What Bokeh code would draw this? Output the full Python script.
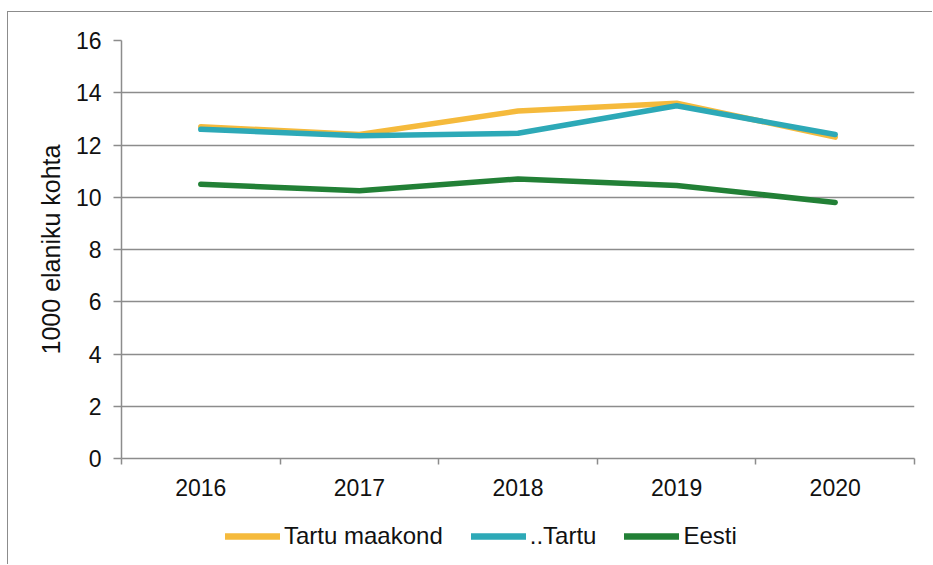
from bokeh.plotting import figure
from bokeh.layouts import column
from bokeh.models import Range1d, FixedTicker, Legend, LegendItem
from bokeh.embed import file_html
from bokeh.resources import INLINE

years = ["2016", "2017", "2018", "2019", "2020"]
tartu_maakond = [12.7, 12.4, 13.3, 13.6, 12.3]
tartu = [12.6, 12.35, 12.45, 13.5, 12.4]
eesti = [10.5, 10.25, 10.7, 10.45, 9.8]
y_ticks = [0, 2, 4, 6, 8, 10, 12, 14, 16]
series_names = ["Tartu maakond", "..Tartu", "Eesti"]
series_colors = ["#F5BA3C", "#2DA9B7", "#228036"]

xs = [i + 0.5 for i in range(len(years))]
bounds = list(range(len(years) + 1))
series = [tartu_maakond, tartu, eesti]

FONT = "Liberation Sans"
GRAY = "#8c8c8c"

p = figure(width=924, height=495, output_backend="svg", toolbar_location=None,
           x_range=Range1d(0, len(years)), y_range=Range1d(0, 16),
           min_border_left=113, min_border_right=18, min_border_top=28,
           min_border_bottom=49)
p.outline_line_color = None
p.background_fill_color = "white"
p.border_fill_color = "white"

for vals, col in zip(series, series_colors):
    p.line(xs, vals, line_color=col, line_width=5.5, line_cap="round", line_join="round")

# x axis
p.xaxis.ticker = FixedTicker(ticks=xs, minor_ticks=bounds)
p.xaxis.major_label_overrides = {x: y for x, y in zip(xs, years)}
p.xaxis.major_tick_out = 0
p.xaxis.major_tick_in = 0
p.xaxis.minor_tick_out = 6
p.xaxis.minor_tick_in = 0
p.xaxis.minor_tick_line_color = GRAY
p.xaxis.minor_tick_line_width = 1.5
p.xaxis.axis_line_color = GRAY
p.xaxis.axis_line_width = 1.5
p.xaxis.major_label_text_font = FONT
p.xaxis.major_label_text_font_size = "23px"
p.xaxis.major_label_text_color = "#111111"
p.xaxis.major_label_standoff = 14
p.xgrid.visible = False

# y axis
p.yaxis.ticker = FixedTicker(ticks=y_ticks)
p.yaxis.minor_tick_line_color = None
p.yaxis.major_tick_out = 8
p.yaxis.major_tick_in = 0
p.yaxis.major_tick_line_color = GRAY
p.yaxis.major_tick_line_width = 1.5
p.yaxis.axis_line_color = GRAY
p.yaxis.axis_line_width = 1.5
p.yaxis.major_label_text_font = FONT
p.yaxis.major_label_text_font_size = "23px"
p.yaxis.major_label_text_color = "#111111"
p.yaxis.major_label_standoff = 12
p.yaxis.axis_label = "1000 elaniku kohta"
p.yaxis.axis_label_text_font = FONT
p.yaxis.axis_label_text_font_size = "25px"
p.yaxis.axis_label_text_font_style = "normal"
p.yaxis.axis_label_text_color = "#111111"
p.yaxis.axis_label_standoff = 8
p.ygrid.grid_line_color = GRAY
p.ygrid.grid_line_width = 1.5

# legend strip (series drawn out of view; only their legend glyphs show)
lg = figure(width=924, height=57, output_backend="svg", toolbar_location=None,
            x_range=Range1d(0, len(years)), y_range=Range1d(-2, -1),
            min_border_left=0, min_border_right=0, min_border_top=0, min_border_bottom=0)
lg.axis.visible = False
lg.grid.visible = False
lg.outline_line_color = None
lg.border_fill_color = "white"
lg.background_fill_color = "white"
items = []
for name, vals, col in zip(series_names, series, series_colors):
    r = lg.line(xs, vals, line_color=col, line_width=6.5, line_cap="round")
    items.append(LegendItem(label=name, renderers=[r]))
legend = Legend(items=items, orientation="horizontal", location=(104, 14),
                glyph_width=55, glyph_height=20, label_standoff=4, spacing=28,
                padding=0, margin=0, border_line_color=None, background_fill_alpha=0,
                label_text_font=FONT, label_text_font_size="24px", label_text_color="#111111")
lg.add_layout(legend, "center")

layout = column(p, lg, spacing=0)
layout.styles = {"margin-top": "11px", "margin-left": "7px",
                 "border-top": "1.5px solid #8c8c8c",
                 "border-left": "1.5px solid #8c8c8c"}

open("out.html", "w").write(file_html(layout, INLINE))
